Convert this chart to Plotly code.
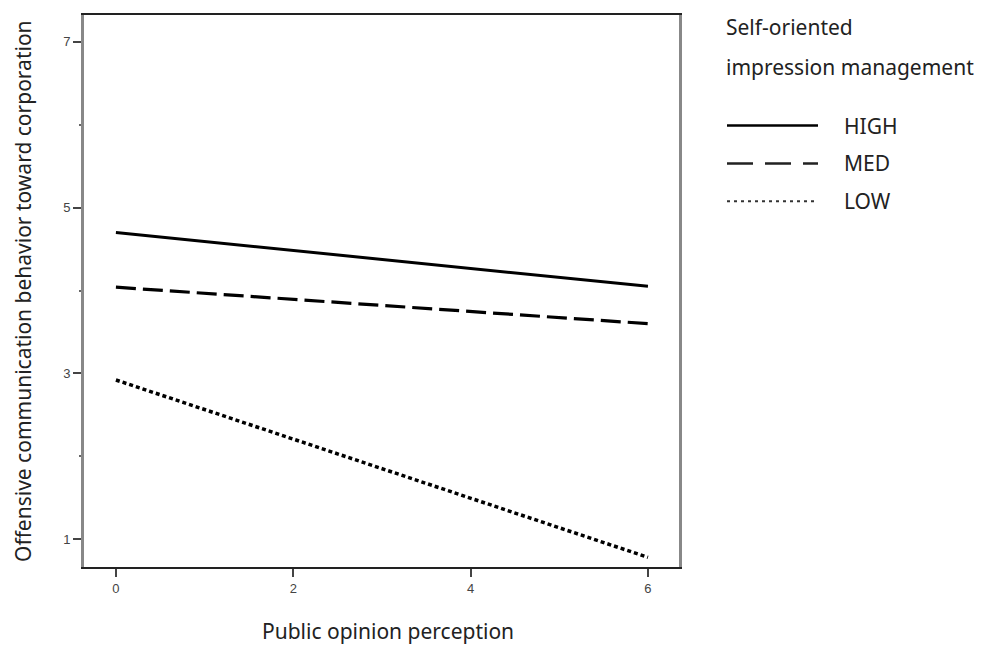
import plotly.graph_objects as go

x_vals = [0, 6]
high = [4.70, 4.05]
med = [4.04, 3.60]
low = [2.92, 0.78]
series_names = ["HIGH", "MED", "LOW"]
legend_title = ["Self-oriented", "impression management"]
x_title = "Public opinion perception"
y_title = "Offensive communication behavior toward corporation"
x_ticks = [0, 2, 4, 6]
y_ticks = [1, 3, 5, 7]

FONT = "Noto Sans"
FS = 21
OFF = 8  # page body margin offset
L, T, R_EDGE, B_EDGE = 84 - OFF, 13 - OFF, 679 - OFF, 567 - OFF
W, H = 985 - OFF, 646 - OFF
PW, PH = R_EDGE - L, B_EDGE - T

styles = [
    dict(color="black", width=3, dash="solid"),
    dict(color="black", width=3.2, dash="20px,7px"),
    dict(color="black", width=3.5, dash="4px,3px"),
]

fig = go.Figure()
for name, ys, st in zip(series_names, [high, med, low], styles):
    fig.add_trace(go.Scatter(x=x_vals, y=ys, mode="lines", name=name, line=st, showlegend=False))

fig.update_layout(
    width=W, height=H,
    margin=dict(l=L, r=W - R_EDGE, t=T, b=H - B_EDGE),
    plot_bgcolor="white", paper_bgcolor="white",
    showlegend=False,
)
fig.update_xaxes(
    range=[-0.36, 6.35], tickvals=x_ticks, ticks="outside", ticklen=8, tickwidth=2, tickcolor="#444",
    showline=True, linecolor="#222", linewidth=2, mirror=True, showgrid=False, zeroline=False,
    tickfont=dict(family="Liberation Sans", size=13, color="#444"),
)
fig.update_yaxes(
    range=[0.663, 7.325], tickvals=y_ticks, ticks="outside", ticklen=8, tickwidth=2, tickcolor="#444",
    showline=True, linecolor="#888", linewidth=3, mirror=True, showgrid=False, zeroline=False,
    tickfont=dict(family="Liberation Sans", size=13, color="#444"),
    minor=dict(tickvals=[2, 4, 6], ticks="outside", ticklen=2, tickcolor="#666", tickwidth=2),
)


def px_x(px):
    return (px - OFF - L) / PW


def px_y(py):
    return (B_EDGE - (py - OFF)) / PH


# axis titles
fig.add_annotation(text=x_title, xref="paper", yref="paper", x=px_x(388), y=px_y(631),
                   showarrow=False, xanchor="center", yanchor="middle",
                   font=dict(family=FONT, size=FS, color="#222"))
fig.add_annotation(text=y_title, xref="paper", yref="paper", x=px_x(23), y=px_y(290),
                   showarrow=False, xanchor="center", yanchor="middle", textangle=-90,
                   font=dict(family=FONT, size=FS, color="#222"))

# legend (drawn manually)
fig.add_annotation(text=legend_title[0], xref="paper", yref="paper", x=px_x(724), y=px_y(25),
                   showarrow=False, xanchor="left", yanchor="middle",
                   font=dict(family=FONT, size=FS, color="#222"))
fig.add_annotation(text=legend_title[1], xref="paper", yref="paper", x=px_x(724), y=px_y(65),
                   showarrow=False, xanchor="left", yanchor="middle",
                   font=dict(family=FONT, size=FS, color="#222"))
leg_styles = [
    dict(color="black", width=2.5, dash="solid"),
    dict(color="#222", width=2.5, dash="26px,12px"),
    dict(color="#333", width=2, dash="3px,4px"),
]
for i, (name, st) in enumerate(zip(series_names, leg_styles)):
    yy = px_y(124 + 38 * i)
    fig.add_shape(type="line", xref="paper", yref="paper", x0=px_x(727), x1=px_x(818), y0=yy, y1=yy, line=st)
    fig.add_annotation(text=name, xref="paper", yref="paper", x=px_x(842), y=yy,
                       showarrow=False, xanchor="left", yanchor="middle",
                       font=dict(family=FONT, size=FS, color="#222"))

fig.write_html("out.html")
